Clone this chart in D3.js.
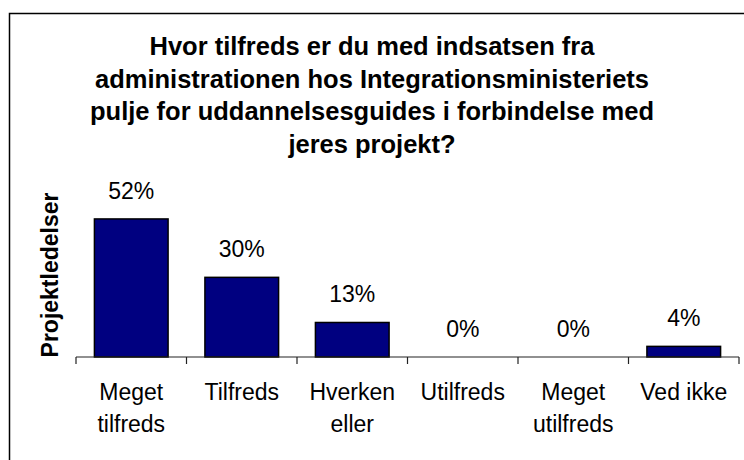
<!DOCTYPE html>
<html>
<head>
<meta charset="utf-8">
<script src="https://cdn.jsdelivr.net/npm/d3@7"></script>
<style>
  body { margin: 0; background: #fff; }
  svg { display: block; font-family: Arial, "Liberation Sans", sans-serif; }
</style>
</head>
<body>
<svg id="chart" width="744" height="460"></svg>
<script>
// data
const categories = [["Meget", "tilfreds"], ["Tilfreds"], ["Hverken", "eller"], ["Utilfreds"], ["Meget", "utilfreds"], ["Ved ikke"]];
const values = [52, 30, 13, 0, 0, 4];
const titleLines = [
  "Hvor tilfreds er du med indsatsen fra",
  "administrationen hos Integrationsministeriets",
  "pulje for uddannelsesguides i forbindelse med",
  "jeres projekt?"
];
const yTitle = "Projektledelser";

const svg = d3.select("#chart");

// frame (right and bottom edges fall outside the picture)
svg.append("rect")
  .attr("x", 9.5).attr("y", 13.5)
  .attr("width", 800).attr("height", 500)
  .attr("fill", "none").attr("stroke", "#000").attr("stroke-width", 1.5);

// title
svg.append("text")
  .attr("text-anchor", "middle")
  .attr("font-weight", "bold")
  .attr("font-size", 25.5)
  .attr("fill", "#000")
  .selectAll("tspan")
  .data(titleLines)
  .join("tspan")
  .attr("x", 372)
  .attr("y", (d, i) => 55 + i * 32.7)
  .text(d => d);

const x0 = 76, x1 = 739, base = 357;
const x = d3.scaleBand().domain(d3.range(categories.length)).range([x0, x1]).paddingInner(1 / 3).paddingOuter(1 / 6);
const y = d3.scaleLinear().domain([0, 60]).range([base, base - 159.3]);

// bars
svg.append("g").selectAll("rect")
  .data(values)
  .join("rect")
  .attr("x", (d, i) => x(i))
  .attr("y", d => y(d))
  .attr("width", x.bandwidth())
  .attr("height", d => base - y(d))
  .attr("fill", "#000080")
  .attr("stroke", "#000")
  .attr("stroke-width", 1.5);

// value labels
svg.append("g").selectAll("text")
  .data(values)
  .join("text")
  .attr("x", (d, i) => x(i) + x.bandwidth() / 2)
  .attr("y", d => y(d) - 20)
  .attr("text-anchor", "middle")
  .attr("font-size", 23)
  .attr("fill", "#000")
  .text(d => d + "%");

// category axis
const step = x.step();
const ax = svg.append("g");
ax.append("line")
  .attr("x1", x0).attr("x2", x1)
  .attr("y1", base).attr("y2", base)
  .attr("stroke", "#222").attr("stroke-width", 1.2);
ax.selectAll("line.tick")
  .data(d3.range(categories.length + 1))
  .join("line")
  .attr("class", "tick")
  .attr("x1", i => x0 + i * step).attr("x2", i => x0 + i * step)
  .attr("y1", base).attr("y2", base + 7)
  .attr("stroke", "#222").attr("stroke-width", 1.2);

ax.selectAll("text.cat")
  .data(categories)
  .join("text")
  .attr("class", "cat")
  .attr("text-anchor", "middle")
  .attr("font-size", 23)
  .attr("fill", "#000")
  .each(function (lines, i) {
    d3.select(this).selectAll("tspan")
      .data(lines)
      .join("tspan")
      .attr("x", x(i) + x.bandwidth() / 2)
      .attr("y", (d, j) => 400 + j * 32)
      .text(d => d);
  });

// y axis title
svg.append("text")
  .attr("transform", "translate(58,275) rotate(-90)")
  .attr("text-anchor", "middle")
  .attr("font-weight", "bold")
  .attr("font-size", 23)
  .attr("fill", "#000")
  .text(yTitle);
</script>
</body>
</html>
